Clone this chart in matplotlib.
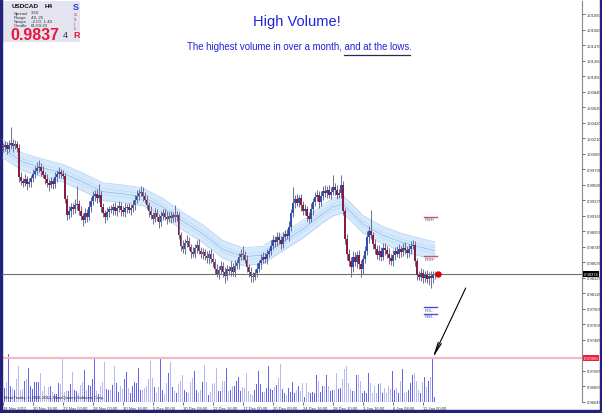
import numpy as np
import matplotlib.pyplot as plt
from matplotlib.patches import Rectangle
import matplotlib.transforms as mtransforms

plt.rcParams['font.family'] = ['Liberation Sans', 'DejaVu Sans']

# USDCAD H4 closes, 16 Nov 2012 .. 11 Jan 2013
close = [
    1.0009, 1.0012, 1.0007, 1.0012, 1.0015, 1.0011, 1.0013, 1.0008, 0.9969, 0.9963,
    0.9961, 0.9966, 0.9959, 0.9962, 0.9967, 0.9973, 0.9977, 0.9981, 0.9982, 0.9977,
    0.9972, 0.9966, 0.9961, 0.9958, 0.9963, 0.9959, 0.9969, 0.9973, 0.9976, 0.9973,
    0.9970, 0.9939, 0.9917, 0.9923, 0.9928, 0.9925, 0.9931, 0.9932, 0.9923, 0.9916,
    0.9911, 0.9920, 0.9915, 0.9928, 0.9936, 0.9943, 0.9946, 0.9940, 0.9945, 0.9928,
    0.9920, 0.9915, 0.9921, 0.9925, 0.9924, 0.9928, 0.9923, 0.9927, 0.9930, 0.9924,
    0.9921, 0.9927, 0.9928, 0.9924, 0.9927, 0.9931, 0.9938, 0.9943, 0.9947, 0.9949,
    0.9943, 0.9938, 0.9931, 0.9923, 0.9917, 0.9912, 0.9920, 0.9915, 0.9908, 0.9916,
    0.9920, 0.9915, 0.9912, 0.9916, 0.9913, 0.9917, 0.9915, 0.9917, 0.9890, 0.9876,
    0.9871, 0.9880, 0.9882, 0.9874, 0.9867, 0.9865, 0.9873, 0.9877, 0.9869, 0.9865,
    0.9867, 0.9862, 0.9859, 0.9865, 0.9858, 0.9854, 0.9844, 0.9838, 0.9843, 0.9849,
    0.9840, 0.9835, 0.9844, 0.9842, 0.9847, 0.9840, 0.9849, 0.9852, 0.9861, 0.9865,
    0.9863, 0.9857, 0.9847, 0.9840, 0.9835, 0.9834, 0.9839, 0.9844, 0.9852, 0.9857,
    0.9861, 0.9858, 0.9865, 0.9869, 0.9876, 0.9884, 0.9881, 0.9888, 0.9884, 0.9878,
    0.9888, 0.9892, 0.9889, 0.9901, 0.9920, 0.9934, 0.9939, 0.9934, 0.9940, 0.9931,
    0.9923, 0.9925, 0.9916, 0.9912, 0.9925, 0.9935, 0.9942, 0.9945, 0.9935, 0.9943,
    0.9950, 0.9947, 0.9951, 0.9945, 0.9949, 0.9955, 0.9951, 0.9945, 0.9947, 0.9958,
    0.9923, 0.9885, 0.9865, 0.9855, 0.9847, 0.9861, 0.9854, 0.9863, 0.9851, 0.9844,
    0.9858, 0.9869, 0.9888, 0.9896, 0.9890, 0.9878, 0.9871, 0.9863, 0.9869, 0.9861,
    0.9873, 0.9870, 0.9865, 0.9859, 0.9855, 0.9863, 0.9869, 0.9865, 0.9871, 0.9867,
    0.9873, 0.9870, 0.9866, 0.9871, 0.9876, 0.9877, 0.9855, 0.9836, 0.9834, 0.9839,
    0.9832, 0.9836, 0.9831, 0.9835, 0.9832, 0.9836, 0.98374,
]
first_open = 1.0010

# wick lengths in pips above / below the body
wick_up = [
    5, 6, 4, 7, 21, 5, 6, 4, 5, 6, 5, 7, 4, 6, 5, 7, 6, 8, 10, 5,
    6, 4, 7, 5, 6, 4, 7, 5, 6, 4, 5, 4, 6, 7, 5, 6, 8, 25, 5, 6,
    4, 7, 5, 8, 6, 7, 5, 6, 14, 5, 6, 4, 7, 5, 6, 5, 7, 4, 6, 5,
    5, 7, 4, 6, 5, 7, 6, 8, 5, 7, 6, 5, 7, 4, 6, 5, 7, 6, 4, 7,
    5, 6, 8, 5, 7, 4, 14, 6, 5, 4, 7, 5, 8, 6, 4, 7, 5, 6, 8, 5,
    6, 4, 7, 5, 6, 8, 4, 7, 5, 6, 5, 7, 6, 4, 8, 5, 7, 6, 5, 7,
    11, 5, 6, 4, 7, 5, 6, 8, 5, 7, 6, 5, 7, 4, 8, 6, 5, 7, 6, 5,
    7, 5, 6, 8, 5, 21, 6, 7, 5, 6, 5, 7, 4, 6, 8, 5, 7, 6, 5, 7,
    6, 8, 5, 7, 6, 16, 5, 7, 6, 13, 5, 4, 6, 7, 5, 8, 6, 5, 7, 6,
    5, 7, 8, 6, 28, 5, 7, 6, 8, 5, 7, 6, 5, 8, 6, 7, 5, 6, 7, 5,
    6, 8, 5, 7, 6, 7, 5, 4, 6, 7, 5, 6, 7, 5, 6, 5, 4,
]
wick_dn = [
    6, 5, 7, 4, 6, 8, 5, 6, 7, 5, 6, 5, 8, 4, 7, 5, 6, 4, 5, 7,
    5, 7, 6, 8, 4, 6, 5, 7, 5, 6, 4, 6, 7, 5, 8, 6, 5, 7, 6, 5,
    8, 5, 7, 4, 6, 5, 7, 6, 5, 7, 6, 8, 5, 7, 4, 6, 5, 7, 6, 8,
    5, 6, 7, 4, 6, 5, 7, 5, 6, 4, 7, 5, 6, 8, 5, 7, 4, 6, 8, 5,
    6, 5, 7, 4, 6, 5, 7, 6, 5, 8, 5, 7, 6, 4, 8, 5, 6, 7, 5, 6,
    7, 5, 6, 8, 5, 7, 6, 5, 7, 6, 7, 10, 5, 6, 7, 5, 6, 4, 7, 5,
    6, 5, 7, 6, 8, 7, 5, 6, 4, 7, 5, 6, 7, 5, 6, 4, 7, 5, 6, 7,
    5, 6, 4, 7, 5, 6, 7, 5, 6, 8, 6, 5, 7, 6, 4, 7, 5, 6, 8, 5,
    6, 5, 7, 4, 6, 5, 7, 6, 5, 7, 6, 7, 8, 6, 14, 7, 5, 8, 6, 11,
    7, 5, 6, 8, 5, 7, 6, 5, 7, 6, 5, 7, 6, 8, 5, 6, 7, 5, 6, 7,
    5, 6, 7, 5, 6, 4, 6, 7, 5, 6, 7, 5, 6, 8, 14, 6, 5,
]

volume = [
    870, 1370, 1930, 4700, 1530, 1370, 1200, 2270, 3470, 1200,
    1270, 2030, 2200, 3370, 1600, 1270, 1930, 1930, 1970, 2870,
    1030, 1530, 700, 1430, 1530, 970, 770, 770, 1870, 1800,
    4300, 970, 1030, 1030, 1800, 2970, 1200, 1030, 870, 1700,
    1930, 3100, 1200, 1630, 1530, 2270, 4200, 1030, 770, 1600,
    1930, 3930, 1270, 1200, 1200, 1700, 3470, 1870, 970, 1530,
    1270, 2200, 2970, 1370, 870, 1530, 1930, 1870, 3300, 1200,
    1200, 1370, 1530, 2200, 3970, 2370, 1430, 870, 1470, 4370,
    1200, 800, 1870, 2870, 3870, 1430, 1030, 870, 1770, 2030,
    2600, 1200, 930, 870, 1930, 2300, 3030, 1200, 870, 1200,
    1930, 3600, 1930, 700, 930, 1770, 1870, 3370, 1030, 1030,
    2100, 2100, 3370, 1030, 1200, 1530, 1530, 2030, 2430, 1030,
    1430, 1370, 2870, 1030, 770, 700, 1200, 1770, 3030, 1770,
    930, 930, 1370, 3530, 1270, 1200, 1430, 1700, 2370, 3700,
    1270, 870, 700, 1400, 1000, 2000, 900, 1200, 1600, 1030,
    1870, 530, 1870, 930, 870, 930, 870, 2600, 2030, 930,
    1530, 1530, 2600, 1530, 1030, 1200, 1200, 2870, 1270, 1370,
    2270, 3270, 3530, 1870, 1270, 1030, 1030, 2600, 2600, 2100,
    870, 1030, 870, 2870, 1870, 870, 1530, 870, 1770, 1870,
    870, 1370, 870, 1530, 1270, 3030, 1200, 1370, 870, 2030,
    3270, 870, 930, 1200, 1870, 2600, 2870, 2030, 1200, 870,
    1930, 2470, 1500, 2100, 2470, 4300, 530,
]

# envelope centre line
band_idx = [0, 10, 20, 30, 40, 50, 60, 70, 80, 90, 100, 110, 120, 130, 140,
            150, 160, 165, 170, 175, 180, 190, 200, 210, 216]
band_mid = [1.0007, 0.9989, 0.9981, 0.9974, 0.9962, 0.9949, 0.9946, 0.9942,
            0.9928, 0.9909, 0.9892, 0.9871, 0.9861, 0.9863, 0.9881, 0.9898,
            0.9919, 0.9928, 0.9932, 0.9919, 0.9905, 0.9890, 0.9880, 0.9873,
            0.9869]
band_half = 0.0012

date_idx = list(range(0, 211, 15))
date_labels = ['16 Nov 2012', '20 Nov 16:00', '23 Nov 00:00', '28 Nov 00:00',
               '30 Nov 16:00', '5 Dec 00:00', '10 Dec 08:00', '12 Dec 16:00',
               '17 Dec 00:00', '20 Dec 00:00', '24 Dec 16:00', '28 Dec 20:00',
               '3 Jan 16:00', '8 Jan 08:00', '11 Jan 00:00']

price_ticks = [1.01890, 1.01680, 1.01470, 1.01260, 1.01050, 1.00840, 1.00630,
               1.00420, 1.00210, 1.00000, 0.99790, 0.99585, 0.99375, 0.99165,
               0.98955, 0.98745, 0.98535, 0.98325, 0.98115, 0.97905, 0.97695,
               0.97485, 0.97065, 0.96855, 0.96645]

bid = 0.98374
vol_level = 4300
vol_level_price = '0.97280'
pivot_names = ['RWH', 'RDH', 'RDL', 'RWL']
pivot_prices = [0.9915, 0.9862, 0.9793, 0.9784]
pivot_colors = ['#e05050', '#e05050', '#4a4ae0', '#4a4ae0']

pip = 0.0001
close = np.array(close)
open_ = np.r_[first_open, close[:-1]]
high = np.maximum(open_, close) + np.array(wick_up) * pip
low = np.minimum(open_, close) - np.array(wick_dn) * pip
idx = np.arange(len(close))
up = close >= open_

W, H = 602, 414
fig = plt.figure(figsize=(W / 100, H / 100), dpi=100)
fig.patch.set_facecolor('white')


def fx(x):
    return x / W


def fy(y):
    return 1 - y / H


ax = fig.add_axes([fx(2), fy(403), 580 / W, 401 / H])
ax2 = ax.twinx()
ax.set_zorder(ax2.get_zorder() + 1)
ax.patch.set_visible(False)

ax.set_xlim(-0.35, 289.65)
ax.set_ylim(0.96645, 1.02067)
ax2.set_ylim(0, vol_level * 401 / 44)

# volumes
vcol = np.where(up, '#6464ee', '#b8b8f2')
ax2.bar(idx, volume, width=0.7, color=vcol, linewidth=0)
ax2.axhline(vol_level, color='#f5b8c6', lw=1.6)
ax2.set_yticks([])
for s in ax2.spines.values():
    s.set_visible(False)

# envelope
bm = np.array(band_mid)
ax.fill_between(band_idx, bm - band_half, bm + band_half, color='#d6e9fc', lw=0, zorder=1)
for k in (-1, 1):
    ax.plot(band_idx, bm + k * band_half, color='#add2f3', lw=0.5, zorder=1)
    ax.plot(band_idx, bm + k * band_half / 3, color='#bcdaf6', lw=0.5, zorder=1)
ax.plot(band_idx, bm, color='#95c2ec', lw=0.6, zorder=1)

# candles
ax.vlines(idx, low, high, color='#6e6e90', lw=0.7, zorder=2)
ccol = np.where(up, '#2c4fb0', '#8a1c40')
body_lo = np.minimum(open_, close)
body_h = np.maximum(np.abs(close - open_), 0.00006)
ax.bar(idx, body_h, bottom=body_lo, width=0.8, color=ccol, linewidth=0, zorder=3)

# bid line and marker
ax.axhline(bid, color='#6e6e6e', lw=0.8, zorder=2)
ax.plot(idx[-1] + 1.6, close[-1], 'o', color='#e00000', ms=3.6, zorder=4)

# pivot levels
for name, p, c in zip(pivot_names, pivot_prices, pivot_colors):
    ax.plot([idx[-1] - 5.5, idx[-1] + 1], [p, p], color=c, lw=1, zorder=3)
    ax.text(idx[-1] - 4.8, p - 0.0001, name, fontsize=3, color='#5a5aa0',
            va='top', ha='left', zorder=3)

# arrow to the volume spike
ax2.annotate('', xy=(int(np.argmax(volume[100:])) + 100, vol_level), xytext=(33, 70),
             textcoords='offset pixels',
             arrowprops=dict(arrowstyle='->,head_length=0.9,head_width=0.12',
                             color='black', lw=0.8, shrinkA=0, shrinkB=0))

# axes styling
for s in ['top', 'left', 'bottom']:
    ax.spines[s].set_visible(False)
ax.spines['right'].set_color('#8a8a8a')
ax.spines['right'].set_linewidth(0.8)
ax.yaxis.tick_right()
ax.set_yticks(price_ticks)
ax.set_yticklabels(['%.5f' % t for t in price_ticks])
ax.tick_params(axis='y', length=2, width=0.5, labelsize=3, pad=1.5,
               colors='#333333')
ax.set_xticks(date_idx)
ax.set_xticklabels(date_labels)
for lab in ax.get_xticklabels():
    lab.set_ha('left')
ax.tick_params(axis='x', length=2, width=0.5, labelsize=3, pad=1,
               colors='#333333')

tr = mtransforms.blended_transform_factory(ax.transAxes, ax.transData)
ax.text(1.003, bid, '%.5f' % bid, transform=tr, fontsize=3, color='white',
        va='center', ha='left', zorder=5,
        bbox=dict(fc='black', ec='none', pad=0.5))
tr2 = mtransforms.blended_transform_factory(ax2.transAxes, ax2.transData)
ax2.text(1.003, vol_level, vol_level_price, transform=tr2, fontsize=3,
         color='white', va='center', ha='left',
         bbox=dict(fc='#e8203c', ec='none', pad=0.5))

# headline
blue = '#2222dd'
fig.text(fx(297), fy(22), 'High Volume!', fontsize=10.5, color=blue,
         ha='center', va='center')
sub = 'The highest volume in over a month, and at the lows.'
t = fig.text(fx(299), fy(47), sub, fontsize=6.9, color=blue, ha='center', va='center')
fig.canvas.draw()
r = fig.canvas.get_renderer()
bb = t.get_window_extent(r)
tmp = fig.text(0, 0, 'The highest volume in over a month, ', fontsize=6.9)
w0 = tmp.get_window_extent(r).width
tmp.set_text('The highest volume in over a month, and at the lows')
w1 = tmp.get_window_extent(r).width
tmp.remove()
fig.add_artist(plt.Line2D([(bb.x0 + w0) / W, (bb.x0 + w1 + 1) / W],
                          [fy(55.5), fy(55.5)], color='#2a2a50', lw=0.9))

# info panel
fig.add_artist(Rectangle((fx(3), fy(43)), 77 / W, 41 / H, facecolor='#e4e4f0',
                         edgecolor='none'))
fig.text(fx(12), fy(7), 'USDCAD', fontsize=4.6, fontweight='bold', color='#111111', va='center')
fig.text(fx(45), fy(7), 'H4', fontsize=4.6, fontweight='bold', color='#111111', va='center')
fig.text(fx(73), fy(7), 'S', fontsize=6.5, fontweight='bold', color='#3333dd', va='center')
info = [('Spread', '3.50'), ('Range', '48, 25'), ('Swaps', '-2.00, 1.40'), ('Candle', '01:59:20')]
for k, (a, b) in enumerate(info):
    yy = 13.5 + k * 4.2
    fig.text(fx(14), fy(yy), a, fontsize=3.2, color='#333333', va='center')
    fig.text(fx(31), fy(yy), b, fontsize=3.2, color='#333333', va='center')
for k, ch in enumerate(['a', 's', 'i', 'c']):
    fig.text(fx(74), fy(15 + k * 4.5), ch, fontsize=3.4, color='#c04060', va='center')
fig.text(fx(10), fy(36), '0.9837', fontsize=11.5, fontweight='bold', color='#e8163c', va='center')
fig.text(fx(63), fy(35), '4', fontsize=6.5, color='#333333', va='center')
fig.text(fx(73), fy(36), 'R', fontsize=6.5, fontweight='bold', color='#e8163c', va='center')

fig.text(fx(4), fy(398), 'MetaTrader, \u00a9 2001-2012, MetaQuotes Software Corp.',
         fontsize=3, color='#222222', va='center')

# window frame
navy = '#22227a'
fig.add_artist(Rectangle((0, 0), fx(2), 1, color=navy))
fig.add_artist(Rectangle((0, 0), 1, 3 / H, color=navy))
fig.add_artist(Rectangle((fx(600), 0), fx(2), 1, color=navy))

fig.savefig('out.png', dpi=100)
